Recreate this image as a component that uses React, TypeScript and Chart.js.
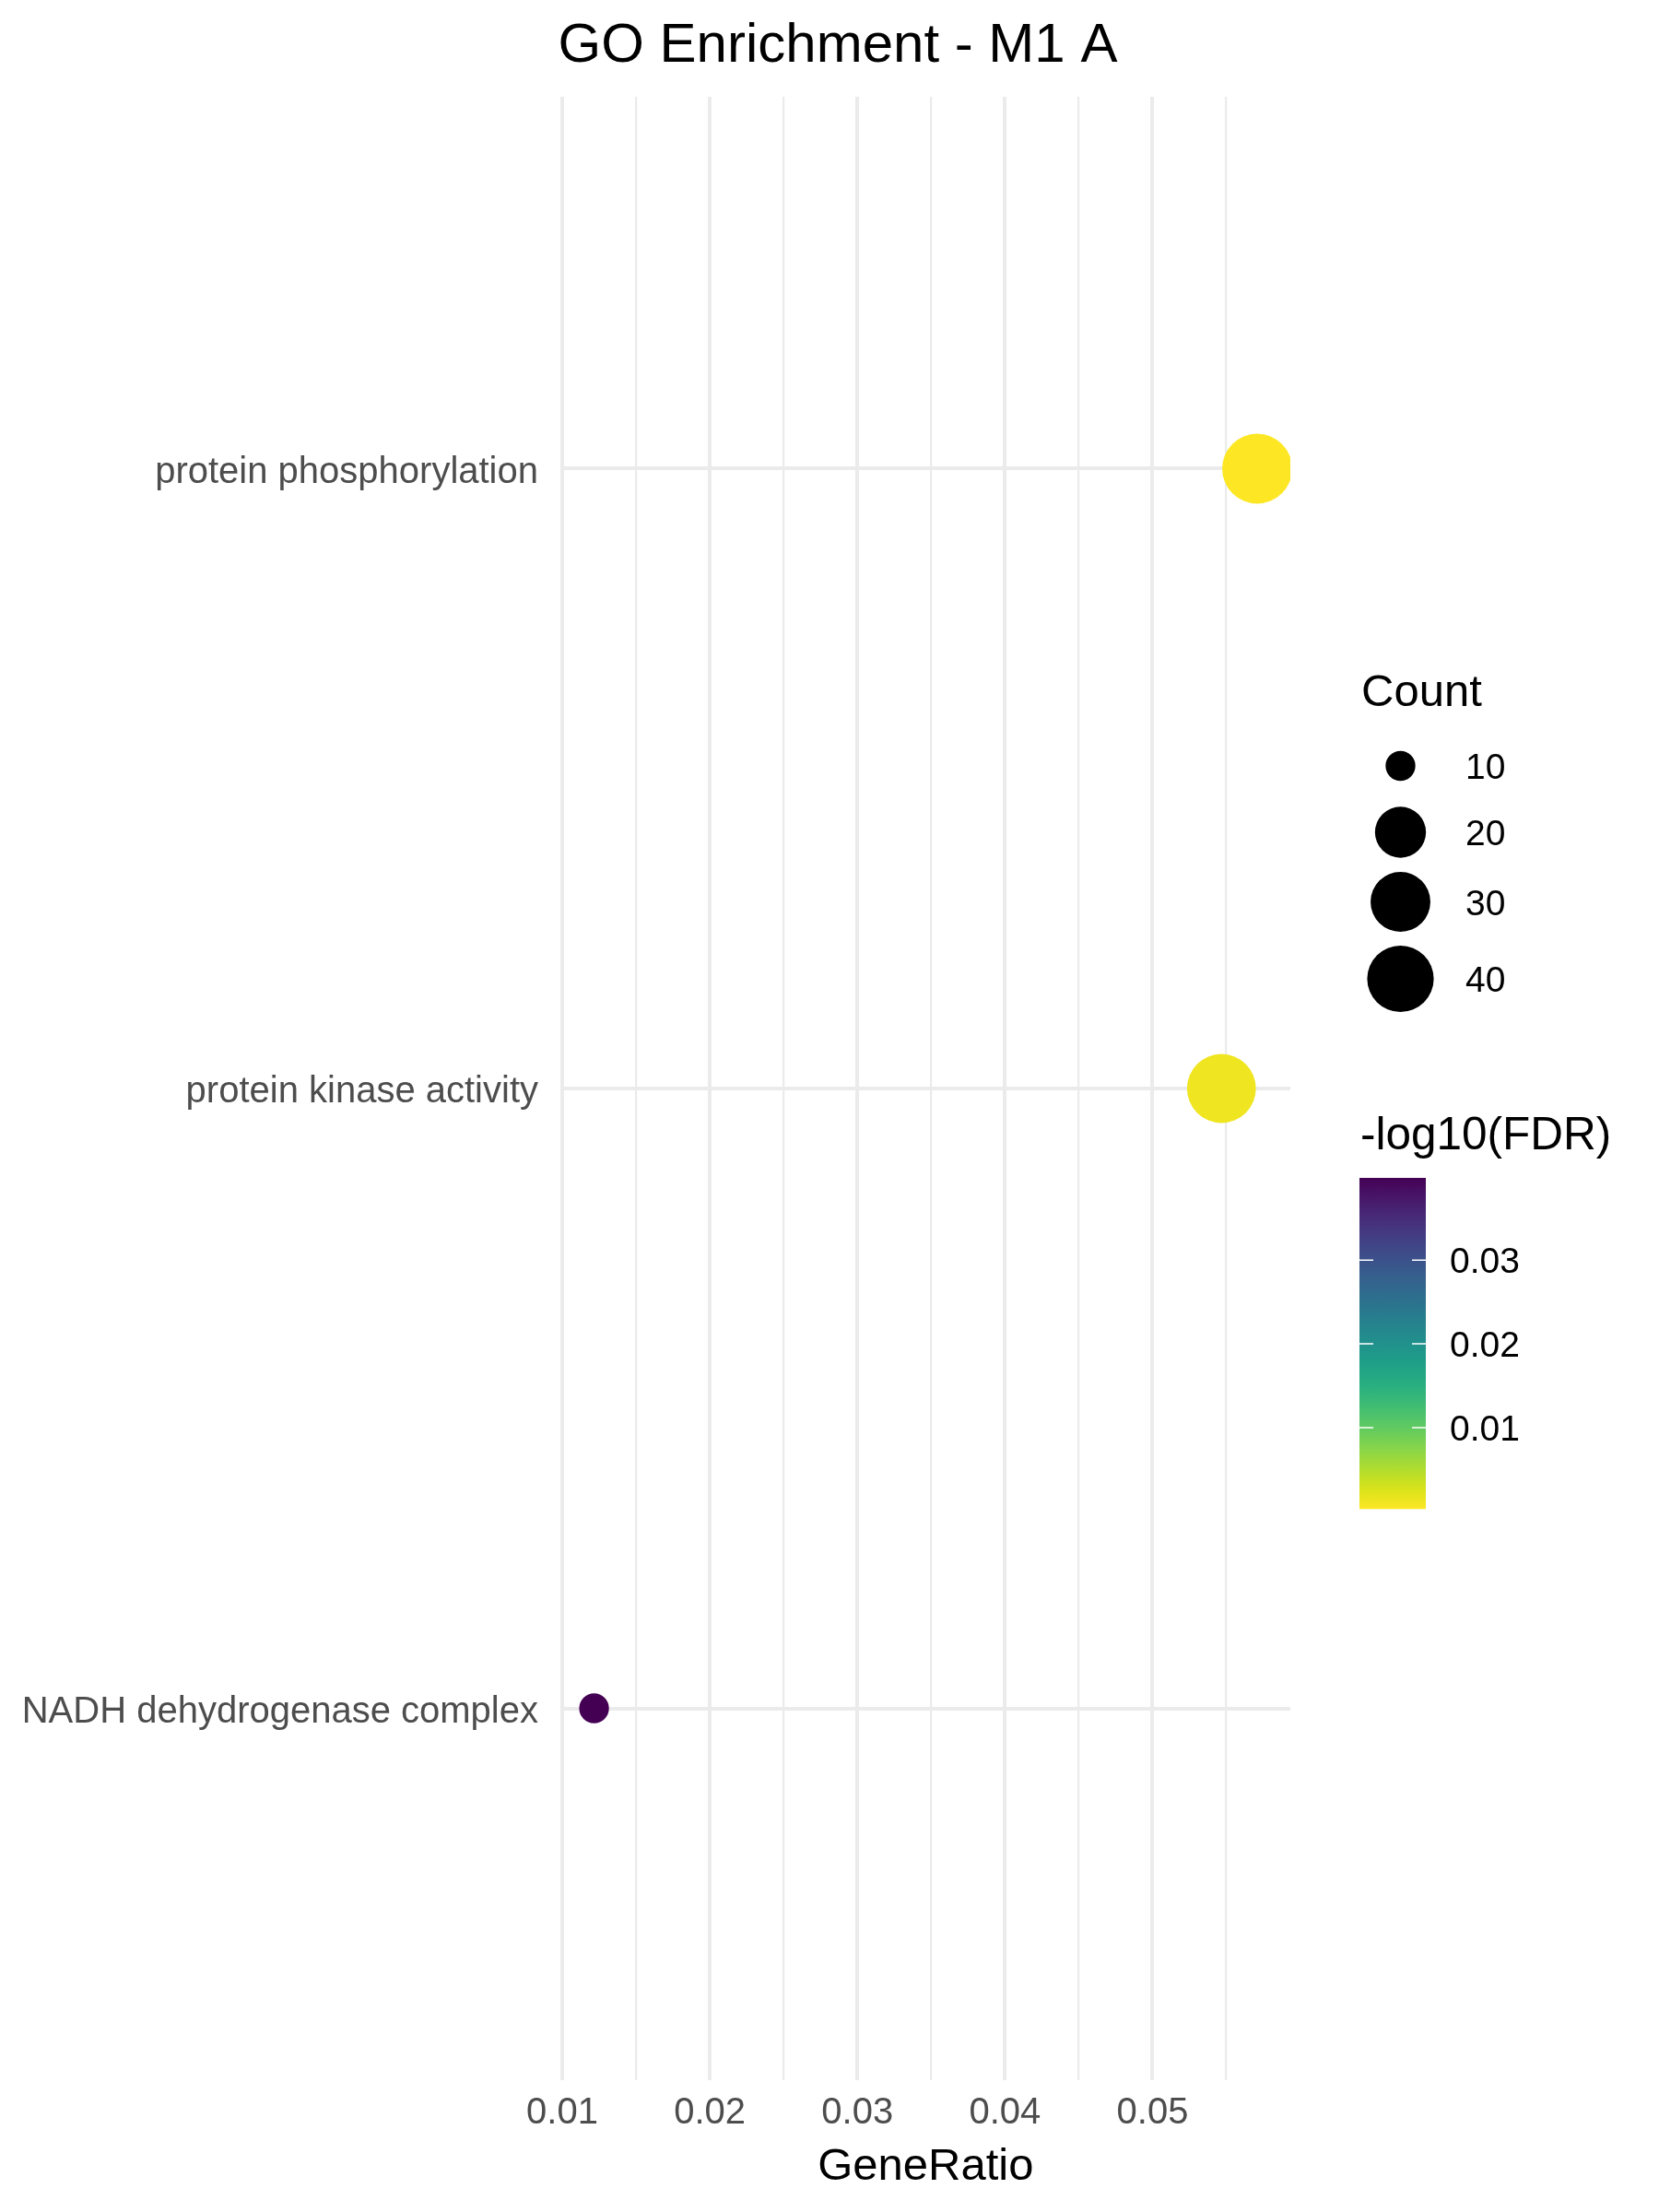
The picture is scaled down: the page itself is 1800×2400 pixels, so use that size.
import React, { useEffect, useRef } from "react";
import { Chart, registerables } from "chart.js";

Chart.register(...registerables);

// ---------------- data ----------------
const TITLE = "GO Enrichment - M1 A";
const X_TITLE = "GeneRatio";
const SIZE_TITLE = "Count";
const COLOR_TITLE = "-log10(FDR)";

const categories = [
  "protein phosphorylation",
  "protein kinase activity",
  "NADH dehydrogenase complex",
];
const geneRatio = [0.05709, 0.05467, 0.01216];
const counts = [46, 44, 10];
const negLog10FDR = [0.0003, 0.0012, 0.0398];

const xMajorTicks = [0.01, 0.02, 0.03, 0.04, 0.05];
const xMinorTicks = [0.015, 0.025, 0.035, 0.045, 0.055];
const sizeBreaks = [10, 20, 30, 40];
const colorBreaks = [0.01, 0.02, 0.03];

// ---------------- layout / style ----------------
const W = 1800;
const H = 2400;
const PANEL = { left: 608.6, right: 1400, top: 105, bottom: 2257 };
const FONT = "'Liberation Sans', Arial, Helvetica, sans-serif";
const AXIS_TEXT = "#4D4D4D";
const GRID = "#EBEBEB";
const D_MIN = 32.3;
const D_MAX = 76.0;
const SIZE_LEGEND = { titleX: 1477, titleY: 766, keyX: 1519.5, keyY: [831, 903, 978.5, 1062], labelX: 1590 };
const COLOR_LEGEND = { titleX: 1476, titleY: 1247, left: 1475, right: 1547, top: 1278, bottom: 1637.3, labelX: 1573 };

const VIRIDIS = [
  "#440154", "#48186a", "#472d7b", "#424086", "#3b528b", "#33638d", "#2c728e", "#26828e",
  "#21918c", "#1fa088", "#28ae80", "#3fbc73", "#5ec962", "#84d44b", "#addc30", "#d8e219", "#fde725",
];

function hexToRgb(h: string): number[] {
  return [parseInt(h.slice(1, 3), 16), parseInt(h.slice(3, 5), 16), parseInt(h.slice(5, 7), 16)];
}
function viridis(t: number): string {
  const tt = Math.max(0, Math.min(1, t)) * (VIRIDIS.length - 1);
  const i = Math.min(VIRIDIS.length - 2, Math.floor(tt));
  const f = tt - i;
  const a = hexToRgb(VIRIDIS[i]);
  const b = hexToRgb(VIRIDIS[i + 1]);
  const c = a.map((v, k) => Math.round(v + (b[k] - v) * f));
  return `rgb(${c[0]},${c[1]},${c[2]})`;
}

const colMin = Math.min(...negLog10FDR);
const colMax = Math.max(...negLog10FDR);
// viridis, direction = -1 (high values purple)
function colorFor(v: number): string {
  return viridis(1 - (v - colMin) / (colMax - colMin));
}

const cntMin = Math.min(...counts);
const cntMax = Math.max(...counts);
function diameterFor(c: number): number {
  const t = Math.max(0, (c - cntMin) / (cntMax - cntMin));
  return D_MIN + (D_MAX - D_MIN) * Math.sqrt(t);
}

const xLo = Math.min(...geneRatio);
const xHi = Math.max(...geneRatio);
const xPad = (xHi - xLo) * 0.05;

const isMajor = (v: number) => xMajorTicks.some((m) => Math.abs(m - v) < 1e-9);

const decorPlugin = {
  id: "ggDecor",
  afterDraw(chart: any) {
    const ctx = chart.ctx as CanvasRenderingContext2D;
    ctx.save();
    // Title
    ctx.fillStyle = "#000000";
    ctx.font = `60px ${FONT}`;
    ctx.textAlign = "center";
    ctx.textBaseline = "alphabetic";
    ctx.fillText(TITLE, 909, 67);
    // X axis title
    ctx.font = `49px ${FONT}`;
    ctx.fillText(X_TITLE, (chart.chartArea.left + chart.chartArea.right) / 2, 2365);

    // Size legend
    ctx.textAlign = "left";
    ctx.fillText(SIZE_TITLE, SIZE_LEGEND.titleX, SIZE_LEGEND.titleY);
    sizeBreaks.forEach((b, i) => {
      const y = SIZE_LEGEND.keyY[i];
      ctx.beginPath();
      ctx.arc(SIZE_LEGEND.keyX, y, diameterFor(b) / 2, 0, Math.PI * 2);
      ctx.fillStyle = "#000000";
      ctx.fill();
      ctx.font = `39px ${FONT}`;
      ctx.fillText(String(b), SIZE_LEGEND.labelX, y + 14);
    });

    // Color legend
    ctx.font = `49.5px ${FONT}`;
    ctx.fillText(COLOR_TITLE, COLOR_LEGEND.titleX, COLOR_LEGEND.titleY);
    const { left, right, top, bottom } = COLOR_LEGEND;
    const grad = ctx.createLinearGradient(0, bottom, 0, top);
    for (let k = 0; k <= 40; k++) {
      const t = k / 40;
      grad.addColorStop(t, colorFor(colMin + t * (colMax - colMin)));
    }
    ctx.fillStyle = grad;
    ctx.fillRect(left, top, right - left, bottom - top);
    const yOf = (v: number) => bottom - ((v - colMin) / (colMax - colMin)) * (bottom - top);
    ctx.strokeStyle = "#FFFFFF";
    ctx.lineWidth = 1.5;
    colorBreaks.forEach((b) => {
      const y = yOf(b);
      ctx.beginPath();
      ctx.moveTo(left, y);
      ctx.lineTo(left + 15, y);
      ctx.moveTo(right - 15, y);
      ctx.lineTo(right, y);
      ctx.stroke();
      ctx.fillStyle = "#000000";
      ctx.font = `39px ${FONT}`;
      ctx.fillText(b.toFixed(2), COLOR_LEGEND.labelX, y + 14);
    });
    ctx.restore();
  },
};

export default function App() {
  const ref = useRef<HTMLCanvasElement | null>(null);

  useEffect(() => {
    if (!ref.current) return;
    const chart = new Chart(ref.current, {
      type: "scatter",
      data: {
        datasets: [
          {
            data: categories.map((_, i) => ({ x: geneRatio[i], y: i })),
            pointRadius: (c: any) => diameterFor(counts[c.dataIndex]) / 2,
            pointHoverRadius: (c: any) => diameterFor(counts[c.dataIndex]) / 2,
            pointBackgroundColor: (c: any) => colorFor(negLog10FDR[c.dataIndex]),
            pointBorderWidth: 0,
            pointBorderColor: "rgba(0,0,0,0)",
            clip: 0,
          } as any,
        ],
      },
      options: {
        responsive: false,
        animation: false,
        devicePixelRatio: 1,
        layout: { padding: { left: 0, right: W - PANEL.right, top: PANEL.top, bottom: 0 } },
        plugins: {
          legend: { display: false },
          tooltip: { enabled: false },
          title: { display: false },
        },
        scales: {
          x: {
            type: "linear",
            position: "bottom",
            min: xLo - xPad,
            max: xHi + xPad,
            afterBuildTicks: (s: any) => {
              s.ticks = [...xMajorTicks, ...xMinorTicks].sort((a, b) => a - b).map((v) => ({ value: v }));
            },
            afterFit: (s: any) => {
              s.height = H - PANEL.bottom;
            },
            ticks: {
              autoSkip: false,
              maxRotation: 0,
              padding: 12,
              color: AXIS_TEXT,
              font: { family: FONT, size: 40 },
              callback: (v: any) => (isMajor(Number(v)) ? Number(v).toFixed(2) : ""),
            },
            grid: {
              color: GRID,
              drawTicks: false,
              lineWidth: (c: any) => (c.tick && isMajor(c.tick.value) ? 4 : 2.2),
            },
            border: { display: false },
          },
          y: {
            type: "linear",
            reverse: true,
            min: -0.6,
            max: categories.length - 1 + 0.6,
            afterBuildTicks: (s: any) => {
              s.ticks = categories.map((_, i) => ({ value: i }));
            },
            afterFit: (s: any) => {
              s.width = PANEL.left;
            },
            ticks: {
              autoSkip: false,
              padding: 24.6,
              labelOffset: 4,
              color: AXIS_TEXT,
              font: { family: FONT, size: 40 },
              callback: (v: any) => categories[Math.round(Number(v))] ?? "",
            },
            grid: { color: GRID, drawTicks: false, lineWidth: 4 },
            border: { display: false },
          },
        },
      } as any,
      plugins: [decorPlugin],
    });
    return () => chart.destroy();
  }, []);

  return (
    <div style={{ position: "absolute", left: 0, top: 0, width: W, height: H, background: "#FFFFFF" }}>
      <canvas ref={ref} width={W} height={H} style={{ display: "block", width: W, height: H }} />
    </div>
  );
}
